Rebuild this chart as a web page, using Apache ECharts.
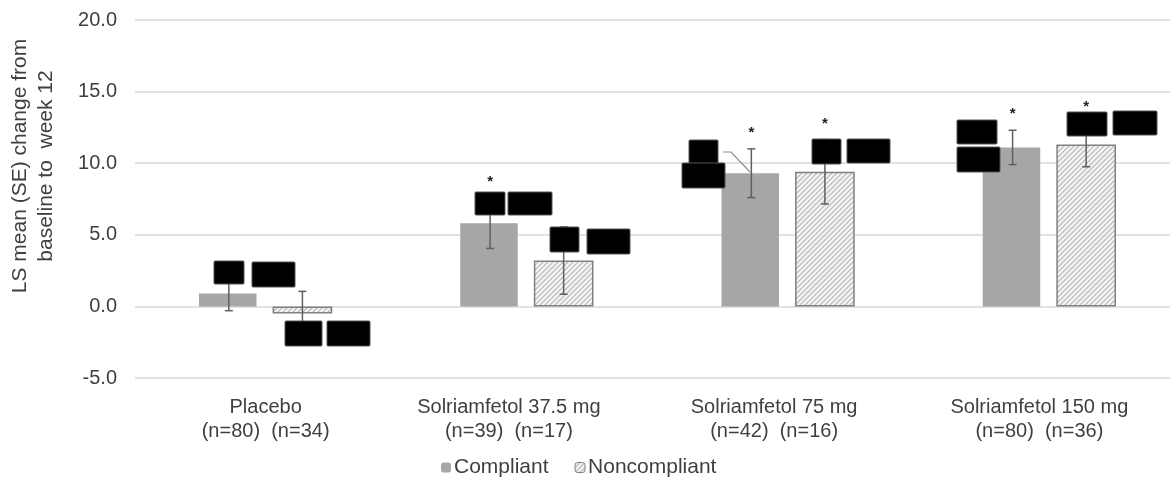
<!DOCTYPE html>
<html>
<head>
<meta charset="utf-8">
<script src="https://cdn.jsdelivr.net/npm/echarts@6/dist/echarts.min.js"></script>
<style>html,body{margin:0;padding:0;background:#fff;overflow:hidden;width:1170px;height:477px}#c{width:1180px;height:477px}</style>
</head>
<body>
<div id="c"></div>
<script>
const categories = ['Placebo\n(n=80)  (n=34)', 'Solriamfetol 37.5 mg\n(n=39)  (n=17)', 'Solriamfetol 75 mg\n(n=42)  (n=16)', 'Solriamfetol 150 mg\n(n=80)  (n=36)'];
const compliant = [0.9, 5.8, 9.3, 11.1];
const compliantSE = [1.2, 1.75, 1.7, 1.2];
const compliantStar = [0, 1, 1, 1];
const noncompliant = [-0.5, 3.2, 9.4, 11.3];
const noncompliantSE = [1.55, 2.35, 2.25, 1.55];
const noncompliantStar = [0, 0, 1, 1];
const yTicks = [-5, 0, 5, 10, 15, 20];
// label shift (style only): right padding moves centred label left
const labelPadRight = [0, 36, 28, 20];

const FONT = '"Liberation Sans", Arial, sans-serif';
const hatch = document.createElement('canvas');
hatch.width = 5; hatch.height = 5;
(function(){
  const g = hatch.getContext('2d');
  g.fillStyle = '#f4f4f4'; g.fillRect(0,0,5,5);
  g.strokeStyle = '#b4b4b4'; g.lineWidth = 1.1;
  g.beginPath();
  g.moveTo(-1,6); g.lineTo(6,-1);
  g.moveTo(-1,1); g.lineTo(1,-1);
  g.moveTo(4,6); g.lineTo(6,4);
  g.stroke();
})();
const hatchFill = {image: hatch, repeat: 'repeat'};

const BW = 0.22, GAP = 0.28;
const OFF = BW * (1 + GAP) / 2;

const errData = [];
compliant.forEach((v, i) => errData.push([i, v, compliantSE[i], compliantStar[i], -1]));
noncompliant.forEach((v, i) => errData.push([i, v, noncompliantSE[i], noncompliantStar[i], 1]));

const chart = echarts.init(document.getElementById('c'));

// redaction boxes (annotation overlay, not data)
const boxes = [
  [214,261,30,23],[252,262,43,25],[285,321,37,25],[327,321,43,25],
  [475,192,30,23],[508,192,44,23],[550,227,29,25],[587,229,43,25],
  [689,140,29,25],[682,163,43,25],[812,139,29,25],[847,139,43,24],
  [957,120,40,24],[957,147,43,25],[1067,112,40,24],[1113,111,44,24]
];
const graphics = boxes.map(b => ({
  type: 'rect', z: 100,
  shape: {x: b[0], y: b[1], width: b[2], height: b[3], r: 1},
  style: {fill: '#000', stroke: '#555', lineWidth: 1}
}));
graphics.push({type: 'polyline', z: 99, shape: {points: [[723,152],[731,152],[750,172]]}, style: {stroke: '#8c8c8c', lineWidth: 1.2, fill: null}});
graphics.push({
  type: 'text', z: 10, x: 33, y: 166, rotation: Math.PI / 2,
  style: {text: 'LS mean (SE) change from\nbaseline to  week 12', font: '21px ' + FONT, fill: '#404040',
          align: 'center', verticalAlign: 'middle', lineHeight: 26}
});

chart.setOption({
  animation: false,
  backgroundColor: '#fff',
  grid: {left: 135, top: 20, right: 0, bottom: 99, containLabel: false},
  legend: {
    top: 452, left: 436, itemWidth: 10, itemHeight: 10, itemGap: 26,
    textStyle: {fontFamily: FONT, fontSize: 21, color: '#404040', padding: [0,0,0,-2]},
    data: [
      {name: 'Compliant', itemStyle: {color: '#a6a6a6'}},
      {name: 'Noncompliant', itemStyle: {color: hatchFill, borderColor: '#808080', borderWidth: 1}}
    ]
  },
  xAxis: {
    type: 'category',
    data: categories.map((c, i) => ({value: c, textStyle: {padding: [0, labelPadRight[i], 0, 0]}})),
    axisLine: {show: false, onZero: false}, axisTick: {show: false},
    axisLabel: {fontFamily: FONT, fontSize: 20, color: '#404040', lineHeight: 24, margin: 17, interval: 0}
  },
  yAxis: {
    type: 'value', min: yTicks[0], max: yTicks[yTicks.length - 1], interval: 5,
    axisLine: {show: false}, axisTick: {show: false},
    axisLabel: {fontFamily: FONT, fontSize: 20, color: '#404040', margin: 18, formatter: v => v.toFixed(1)},
    splitLine: {lineStyle: {color: '#d9d9d9', width: 1.5}}
  },
  graphic: graphics,
  series: [
    {name: 'Compliant', type: 'bar', data: compliant, barWidth: (BW*100)+'%', barGap: (GAP*100)+'%',
     itemStyle: {color: '#a6a6a6'}},
    {name: 'Noncompliant', type: 'bar', data: noncompliant,
     itemStyle: {color: hatchFill, borderColor: '#808080', borderWidth: 1.5}},
    {type: 'custom', z: 5, data: errData, silent: true,
     renderItem: function(params, api) {
       const i = api.value(0), v = api.value(1), se = api.value(2), star = api.value(3), side = api.value(4);
       const band = api.size([1, 0])[0];
       const c = api.coord([i, v]);
       const x = c[0] + side * band * OFF;
       const yt = api.coord([i, v + se])[1];
       const yb = api.coord([i, v - se])[1];
       const st = {stroke: '#5f5f5f', lineWidth: 1.5};
       const ch = [
         {type: 'line', shape: {x1: x, y1: yt, x2: x, y2: yb}, style: st},
         {type: 'line', shape: {x1: x - 4, y1: yt, x2: x + 4, y2: yt}, style: st},
         {type: 'line', shape: {x1: x - 4, y1: yb, x2: x + 4, y2: yb}, style: st}
       ];
       if (star) ch.push({type: 'text', style: {text: '*', x: x, y: yt - 16, font: 'bold 15px ' + FONT,
                          fill: '#222', align: 'center', verticalAlign: 'middle'}});
       return {type: 'group', children: ch};
     }}
  ]
});
</script>
</body>
</html>
